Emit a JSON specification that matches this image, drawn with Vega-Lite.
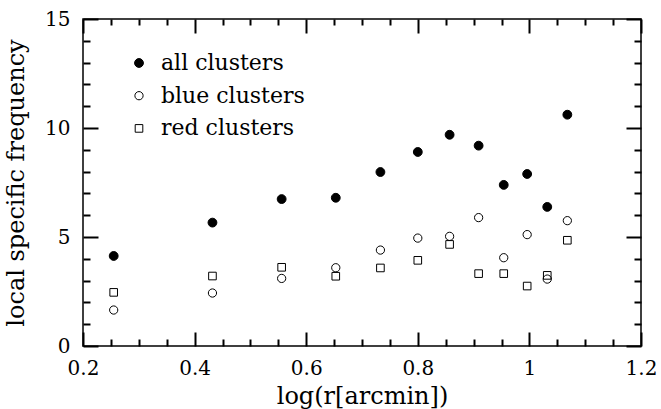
{
  "$schema": "https://vega.github.io/schema/vega-lite/v6.json",
  "autosize": "none",
  "width": 558,
  "height": 327,
  "padding": {"left": 83, "top": 19, "right": 20, "bottom": 63},
  "background": "white",
  "config": {
    "view": {"stroke": "black", "strokeWidth": 1.5},
    "font": "DejaVu Serif",
    "axis": {"grid": false, "domain": false, "labelFont": "DejaVu Serif", "titleFont": "DejaVu Serif", "labelColor": "black", "titleColor": "black", "titleFontWeight": "normal"}
  },
  "data": {"values": [
    {"r": 0.255, "f": 4.13, "series": "all clusters"},
    {"r": 0.432, "f": 5.66, "series": "all clusters"},
    {"r": 0.556, "f": 6.74, "series": "all clusters"},
    {"r": 0.653, "f": 6.80, "series": "all clusters"},
    {"r": 0.733, "f": 7.98, "series": "all clusters"},
    {"r": 0.800, "f": 8.90, "series": "all clusters"},
    {"r": 0.857, "f": 9.69, "series": "all clusters"},
    {"r": 0.909, "f": 9.19, "series": "all clusters"},
    {"r": 0.954, "f": 7.39, "series": "all clusters"},
    {"r": 0.996, "f": 7.89, "series": "all clusters"},
    {"r": 1.032, "f": 6.38, "series": "all clusters"},
    {"r": 1.068, "f": 10.61, "series": "all clusters"},
    {"r": 0.255, "f": 1.65, "series": "blue clusters"},
    {"r": 0.432, "f": 2.43, "series": "blue clusters"},
    {"r": 0.556, "f": 3.10, "series": "blue clusters"},
    {"r": 0.653, "f": 3.59, "series": "blue clusters"},
    {"r": 0.733, "f": 4.40, "series": "blue clusters"},
    {"r": 0.800, "f": 4.95, "series": "blue clusters"},
    {"r": 0.857, "f": 5.03, "series": "blue clusters"},
    {"r": 0.909, "f": 5.89, "series": "blue clusters"},
    {"r": 0.954, "f": 4.05, "series": "blue clusters"},
    {"r": 0.996, "f": 5.11, "series": "blue clusters"},
    {"r": 1.032, "f": 3.07, "series": "blue clusters"},
    {"r": 1.068, "f": 5.75, "series": "blue clusters"},
    {"r": 0.255, "f": 2.46, "series": "red clusters"},
    {"r": 0.432, "f": 3.21, "series": "red clusters"},
    {"r": 0.556, "f": 3.61, "series": "red clusters"},
    {"r": 0.653, "f": 3.20, "series": "red clusters"},
    {"r": 0.733, "f": 3.58, "series": "red clusters"},
    {"r": 0.800, "f": 3.93, "series": "red clusters"},
    {"r": 0.857, "f": 4.66, "series": "red clusters"},
    {"r": 0.909, "f": 3.32, "series": "red clusters"},
    {"r": 0.954, "f": 3.32, "series": "red clusters"},
    {"r": 0.996, "f": 2.75, "series": "red clusters"},
    {"r": 1.032, "f": 3.24, "series": "red clusters"},
    {"r": 1.068, "f": 4.85, "series": "red clusters"}
  ]},
  "resolve": {"axis": {"x": "independent", "y": "independent"}},
  "layer": [
    {
      "mark": {"type": "point", "filled": false, "strokeWidth": 1, "opacity": 1},
      "encoding": {
        "x": {"field": "r", "type": "quantitative", "scale": {"domain": [0.2, 1.2], "nice": false, "zero": false},
              "axis": {"orient": "bottom", "values": [0.2, 0.4, 0.6, 0.8, 1, 1.2], "format": "~g", "ticks": false, "labelFontSize": 20, "labelPadding": 12, "labelFlush": false, "title": "log(r[arcmin])", "titleFontSize": 24, "titleY": 38, "titleBaseline": "top"}},
        "y": {"field": "f", "type": "quantitative", "scale": {"domain": [0, 15], "nice": false},
              "axis": {"orient": "left", "values": [0, 5, 10, 15], "ticks": false, "labelFontSize": 20, "labelPadding": 13, "labelFlush": false, "title": "local specific frequency", "titleFontSize": 24, "titleX": -55, "titleBaseline": "bottom"}},
        "shape": {"field": "series", "type": "nominal", "scale": {"domain": ["all clusters", "blue clusters", "red clusters"], "range": ["circle", "circle", "square"]},
                  "legend": {"orient": "none", "legendX": 45, "legendY": 33, "title": null, "labelFont": "DejaVu Serif", "labelFontSize": 22, "labelColor": "black", "symbolStrokeWidth": 1, "rowPadding": 10.7, "labelOffset": 11, "padding": 0}},
        "fill": {"field": "series", "type": "nominal", "scale": {"domain": ["all clusters", "blue clusters", "red clusters"], "range": ["black", "transparent", "transparent"]},
                  "legend": {"orient": "none", "legendX": 45, "legendY": 33, "title": null, "labelFont": "DejaVu Serif", "labelFontSize": 22, "labelColor": "black", "symbolStrokeWidth": 1, "rowPadding": 10.7, "labelOffset": 11, "padding": 0}},
        "stroke": {"field": "series", "type": "nominal", "scale": {"domain": ["all clusters", "blue clusters", "red clusters"], "range": ["black", "black", "black"]},
                  "legend": {"orient": "none", "legendX": 45, "legendY": 33, "title": null, "labelFont": "DejaVu Serif", "labelFontSize": 22, "labelColor": "black", "symbolStrokeWidth": 1, "rowPadding": 10.7, "labelOffset": 11, "padding": 0}},
        "size": {"field": "series", "type": "nominal", "scale": {"domain": ["all clusters", "blue clusters", "red clusters"], "range": [78, 58, 45]},
                  "legend": {"orient": "none", "legendX": 45, "legendY": 33, "title": null, "labelFont": "DejaVu Serif", "labelFontSize": 22, "labelColor": "black", "symbolStrokeWidth": 1, "rowPadding": 10.7, "labelOffset": 11, "padding": 0}}
      }
    },
    {
      "mark": {"type": "point", "opacity": 0},
      "encoding": {
        "x": {"field": "r", "type": "quantitative", "axis": {"orient": "bottom", "values": [0.2, 0.4, 0.6, 0.8, 1, 1.2], "tickSize": -14, "tickColor": "#000000", "tickWidth": 2, "labels": false, "title": null}},
        "y": {"field": "f", "type": "quantitative", "axis": {"orient": "left", "offset": -15, "values": [0, 5, 10, 15], "tickSize": 15, "tickColor": "#000000", "tickWidth": 2, "labels": false, "title": null}}
      }
    },
    {
      "mark": {"type": "point", "opacity": 0},
      "encoding": {
        "x": {"field": "r", "type": "quantitative", "axis": {"orient": "top", "offset": -14, "values": [0.2, 0.4, 0.6, 0.8, 1, 1.2], "tickSize": 14, "tickColor": "#000000", "tickWidth": 2, "labels": false, "title": null}},
        "y": {"field": "f", "type": "quantitative", "axis": {"orient": "right", "values": [0, 5, 10, 15], "tickSize": -15, "tickColor": "#000000", "tickWidth": 2, "labels": false, "title": null}}
      }
    },
    {
      "mark": {"type": "point", "opacity": 0},
      "encoding": {
        "x": {"field": "r", "type": "quantitative", "axis": {"orient": "bottom", "values": [0.25, 0.3, 0.35, 0.45, 0.5, 0.55, 0.65, 0.7, 0.75, 0.85, 0.9, 0.95, 1.05, 1.1, 1.15], "tickSize": -7, "tickColor": "#000000", "tickWidth": 2, "labels": false, "title": null}},
        "y": {"field": "f", "type": "quantitative", "axis": {"orient": "left", "offset": -7, "values": [1, 2, 3, 4, 6, 7, 8, 9, 11, 12, 13, 14], "tickSize": 7, "tickColor": "#000000", "tickWidth": 2, "labels": false, "title": null}}
      }
    },
    {
      "mark": {"type": "point", "opacity": 0},
      "encoding": {
        "x": {"field": "r", "type": "quantitative", "axis": {"orient": "top", "offset": -6, "values": [0.25, 0.3, 0.35, 0.45, 0.5, 0.55, 0.65, 0.7, 0.75, 0.85, 0.9, 0.95, 1.05, 1.1, 1.15], "tickSize": 6, "tickColor": "#000000", "tickWidth": 2, "labels": false, "title": null}},
        "y": {"field": "f", "type": "quantitative", "axis": {"orient": "right", "values": [1, 2, 3, 4, 6, 7, 8, 9, 11, 12, 13, 14], "tickSize": -7, "tickColor": "#000000", "tickWidth": 2, "labels": false, "title": null}}
      }
    }
  ]
}
